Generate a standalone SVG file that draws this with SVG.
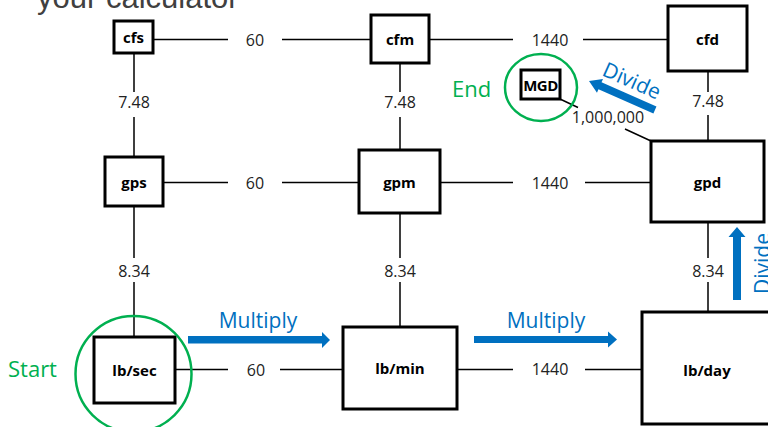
<svg xmlns="http://www.w3.org/2000/svg" width="768" height="427" viewBox="0 0 768 427">
<style>
.box{fill:#fff;stroke:#000;stroke-width:3}
.nl{font-family:"Open Sans","Liberation Sans",sans-serif;font-weight:bold;font-size:15px;text-anchor:middle;fill:#000}
.ln{stroke:#000;stroke-width:1.5;fill:none}
.num{font-family:"Open Sans","Liberation Sans",sans-serif;font-size:16px;text-anchor:middle;fill:#222}
.blue{font-family:"Open Sans","Liberation Sans",sans-serif;font-size:21px;fill:#0070C0}
.green{font-family:"Open Sans","Liberation Sans",sans-serif;font-size:22px;fill:#00B050}
.ring{fill:none;stroke:#00B050;stroke-width:2.5}
.arr{fill:#0070C0}
</style>
<rect width="768" height="427" fill="#fff"/>
<text x="37" y="8" font-family="Liberation Sans, sans-serif" font-size="31" fill="#404040">your calculator</text>

<g id="connectors">
  <path class="ln" d="M153 39.5H228M282 39.5H371M429 39.5H513M583 39.5H668"/>
  <path class="ln" d="M163 182.5H228M282 182.5H359M440 182.5H513M585 182.5H651"/>
  <path class="ln" d="M175 369.5H228M280 369.5H343M457 369.5H513M585 369.5H642"/>
  <path class="ln" d="M134 53V92M134 117V157M134 206V258M134 282V337"/>
  <path class="ln" d="M400 63V92M400 117V150M400 213V258M400 282V327"/>
  <path class="ln" d="M708 71V92M708 115V141M708 222V258M708 282V312"/>
  <path class="ln" d="M560 99L578 107.5M625 129L651 141"/>
  <text class="num" x="255" y="45.5">60</text>
  <text class="num" x="550" y="45.5">1440</text>
  <text class="num" x="255" y="188.5">60</text>
  <text class="num" x="550" y="188.5">1440</text>
  <text class="num" x="256" y="375.5">60</text>
  <text class="num" x="550" y="375">1440</text>
  <text class="num" x="134" y="108">7.48</text>
  <text class="num" x="400" y="108">7.48</text>
  <text class="num" x="708" y="107">7.48</text>
  <text class="num" x="134" y="277">8.34</text>
  <text class="num" x="400" y="277">8.34</text>
  <text class="num" x="708" y="277">8.34</text>
  <text class="num" x="608" y="123">1,000,000</text>
</g>

<g id="cfs"><rect class="box" x="114" y="21" width="39" height="32"/><text class="nl" x="133.5" y="43">cfs</text></g>
<g id="cfm"><rect class="box" x="371" y="15" width="58" height="48"/><text class="nl" x="400" y="45">cfm</text></g>
<g id="cfd"><rect class="box" x="668" y="6" width="79" height="65"/><text class="nl" x="707.5" y="44.5">cfd</text></g>
<g id="MGD"><rect class="box" x="521" y="70" width="39" height="29" stroke-width="2.5"/><text class="nl" x="540.5" y="91" font-size="14" letter-spacing="-0.5">MGD</text></g>
<g id="gps"><rect class="box" x="105" y="157" width="58" height="49"/><text class="nl" x="134" y="187.5">gps</text></g>
<g id="gpm"><rect class="box" x="359" y="150" width="81" height="63"/><text class="nl" x="399.5" y="187.5">gpm</text></g>
<g id="gpd"><rect class="box" x="651" y="141" width="113" height="81"/><text class="nl" x="707.5" y="187.5">gpd</text></g>
<g id="lbsec"><rect class="box" x="94" y="337" width="81" height="66"/><text class="nl" x="134.5" y="376">lb/sec</text></g>
<g id="lbmin"><rect class="box" x="343" y="327" width="114" height="82"/><text class="nl" x="400" y="374">lb/min</text></g>
<g id="lbday"><rect class="box" x="642" y="312" width="140" height="112"/><text class="nl" x="707" y="376">lb/day</text></g>

<g id="start">
  <circle class="ring" cx="133.5" cy="374" r="58"/>
  <text class="green" x="8" y="377">Start</text>
</g>
<g id="end">
  <ellipse class="ring" cx="541" cy="87.5" rx="36" ry="33.5"/>
  <text class="green" x="452" y="97">End</text>
</g>

<g id="multiply1">
  <polygon class="arr" points="188,336 322,336 322,332 330,340 322,348 322,343.5 188,343.5"/>
  <text class="blue" x="258" y="328" text-anchor="middle">Multiply</text>
</g>
<g id="multiply2">
  <polygon class="arr" points="474,336 608,336 608,331.5 617,339.5 608,347.5 608,343 474,343"/>
  <text class="blue" x="546" y="328" text-anchor="middle">Multiply</text>
</g>
<g id="divide1">
  <polygon class="arr" points="733,300 733,237 728.5,237 737,227 745.5,237 741,237 741,300"/>
  <text class="blue" transform="translate(770,294) rotate(-90)">Divide</text>
</g>
<g id="divide2">
  <polygon class="arr" transform="translate(589,81) rotate(23.7)" points="0,0 12,-7.5 12,-3.8 72,-3.8 72,3.8 12,3.8 12,7.5"/>
  <text class="blue" transform="translate(601,75) rotate(24)">Divide</text>
</g>
</svg>
